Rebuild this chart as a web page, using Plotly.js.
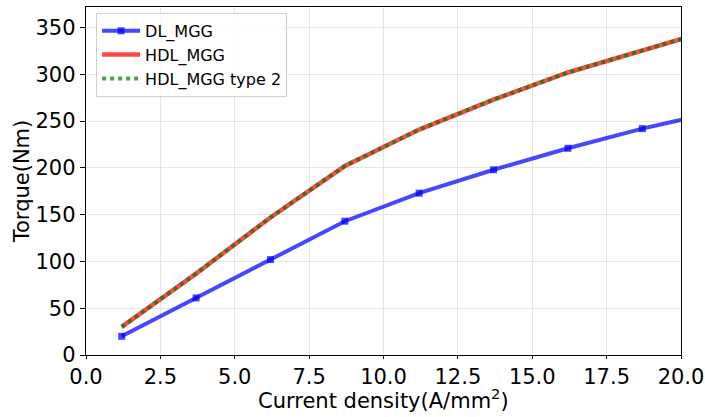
<!DOCTYPE html>
<html>
<head>
<meta charset="utf-8">
<script src="https://cdn.plot.ly/plotly-3.0.1.min.js"></script>
<style>html,body{margin:0;padding:0;background:#fff;}#chart{width:705px;height:417px;}</style>
</head>
<body>
<div id="chart"></div>
<script>
const currentDensity = [1.2, 3.7, 6.2, 8.7, 11.2, 13.7, 16.2, 18.7, 21.2];
const dlMgg = [20, 61, 102, 143, 173, 198, 221, 242, 260];
const hdlMgg = [30, 87, 147, 202, 241, 273, 302, 326, 349];
const hdlMggType2 = [30, 87, 147, 202, 241, 273, 302, 326, 349];
const xTicks = [0, 2.5, 5, 7.5, 10, 12.5, 15, 17.5, 20];
const xTickLabels = ['0.0', '2.5', '5.0', '7.5', '10.0', '12.5', '15.0', '17.5', '20.0'];
const yTicks = [0, 50, 100, 150, 200, 250, 300, 350];

const traces = [
  {x: currentDensity, y: dlMgg, name: 'DL_MGG', mode: 'lines+markers',
   line: {color: 'rgba(0,0,255,0.72)', width: 4},
   marker: {symbol: 'square', size: 7, color: 'rgba(0,0,255,0.72)'}},
  {x: currentDensity, y: hdlMgg, name: 'HDL_MGG', mode: 'lines',
   line: {color: 'rgba(255,0,0,0.72)', width: 4.5}},
  {x: currentDensity, y: hdlMggType2, name: 'HDL_MGG type 2', mode: 'lines',
   line: {color: 'rgba(0,128,0,0.72)', width: 4, dash: 'dot'}}
];

const layout = {
  width: 705, height: 417,
  margin: {l: 86, r: 24, t: 7, b: 62},
  paper_bgcolor: '#fff', plot_bgcolor: '#fff',
  font: {family: 'DejaVu Sans, sans-serif', color: '#000'},
  showlegend: true,
  legend: {x: 0.017, y: 0.983, xanchor: 'left', yanchor: 'top',
    bgcolor: 'rgba(255,255,255,0.8)', bordercolor: '#d0d0d0', borderwidth: 1,
    itemwidth: 38,
    font: {size: 16, family: 'DejaVu Sans, sans-serif'}, tracegroupgap: 0},
  xaxis: {range: [0, 20], tickvals: xTicks, ticktext: xTickLabels,
    showgrid: true, gridcolor: '#e6e6e6', gridwidth: 1, zeroline: false,
    showline: true, linecolor: '#000', linewidth: 1.2, mirror: true,
    ticks: 'outside', ticklen: 3, tickcolor: '#000',
    tickfont: {size: 21}},
  yaxis: {range: [0, 372], tickvals: yTicks,
    showgrid: true, gridcolor: '#e6e6e6', gridwidth: 1, zeroline: false,
    showline: true, linecolor: '#000', linewidth: 1.2, mirror: true,
    ticks: 'outside', ticklen: 5, tickcolor: '#000',
    tickfont: {size: 21}, title: {text: 'Torque(Nm)', font: {size: 21}, standoff: 0}},
  annotations: [{
    text: 'Current density(A/mm<sup>2</sup>)', xref: 'paper', yref: 'paper',
    x: 0.5, y: -0.127, xanchor: 'center', yanchor: 'middle', showarrow: false,
    font: {size: 21, family: 'DejaVu Sans, sans-serif', color: '#000'}
  }]
};

Plotly.newPlot('chart', traces, layout, {displayModeBar: false, staticPlot: true});
</script>
</body>
</html>
